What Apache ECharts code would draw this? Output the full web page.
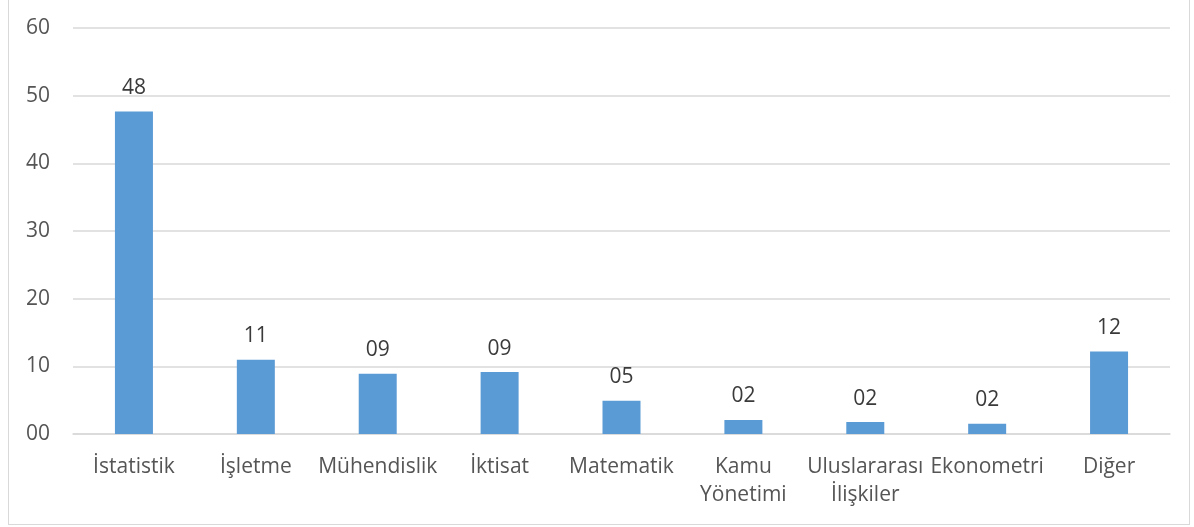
<!DOCTYPE html>
<html>
<head>
<meta charset="utf-8">
<script src="https://cdn.jsdelivr.net/npm/echarts@6/dist/echarts.min.js"></script>
<style>
html, body { margin: 0; padding: 0; background: #fff; }
#frame { position: absolute; left: 8px; top: 0px; width: 1182px; height: 525px; border: 1px solid #d9d9d9; border-top: none; box-sizing: border-box; }
#chart { position: absolute; left: 0; top: 0; width: 1194px; height: 527px; }
</style>
</head>
<body>
<div id="frame"></div>
<div id="chart"></div>
<script>
// kategoriler ve değerler
var categories = ['İstatistik', 'İşletme', 'Mühendislik', 'İktisat', 'Matematik', 'Kamu\nYönetimi', 'Uluslararası\nİlişkiler', 'Ekonometri', 'Diğer'];
var values = [47.65, 10.97, 8.9, 9.16, 4.92, 2.07, 1.77, 1.5, 12.2];
var yTicks = [0, 10, 20, 30, 40, 50, 60];

function pad2(v) {
  var n = Math.round(v);
  return (n < 10 ? '0' : '') + n;
}

var myChart = echarts.init(document.getElementById('chart'));
var option = {
  animation: false,
  textStyle: { fontFamily: 'Open Sans' },
  grid: {
    left: 73,
    right: 24,
    top: 28,
    bottom: 93,
    containLabel: false
  },
  xAxis: {
    type: 'category',
    data: categories,
    axisLine: { lineStyle: { color: '#d9d9d9', width: 1.5 } },
    axisTick: { show: false },
    axisLabel: {
      interval: 0,
      margin: 19,
      color: '#555555',
      fontFamily: 'Open Sans',
      fontSize: 21,
      lineHeight: 28
    },
    splitLine: { show: false }
  },
  yAxis: {
    type: 'value',
    min: yTicks[0],
    max: yTicks[yTicks.length - 1],
    interval: 10,
    axisLine: { show: false },
    axisTick: { show: false },
    axisLabel: {
      margin: 23,
      color: '#555555',
      fontFamily: 'Open Sans',
      fontSize: 21,
      formatter: function (v) { return pad2(v); }
    },
    splitLine: { lineStyle: { color: '#d9d9d9', width: 1.5 } }
  },
  series: [{
    type: 'bar',
    data: values,
    barWidth: 38,
    itemStyle: { color: '#5b9bd5' },
    label: {
      show: true,
      position: 'top',
      distance: 13,
      color: '#3a3a3a',
      fontFamily: 'Open Sans',
      fontSize: 21,
      formatter: function (p) { return pad2(p.value); }
    }
  }]
};
myChart.setOption(option);
</script>
</body>
</html>
